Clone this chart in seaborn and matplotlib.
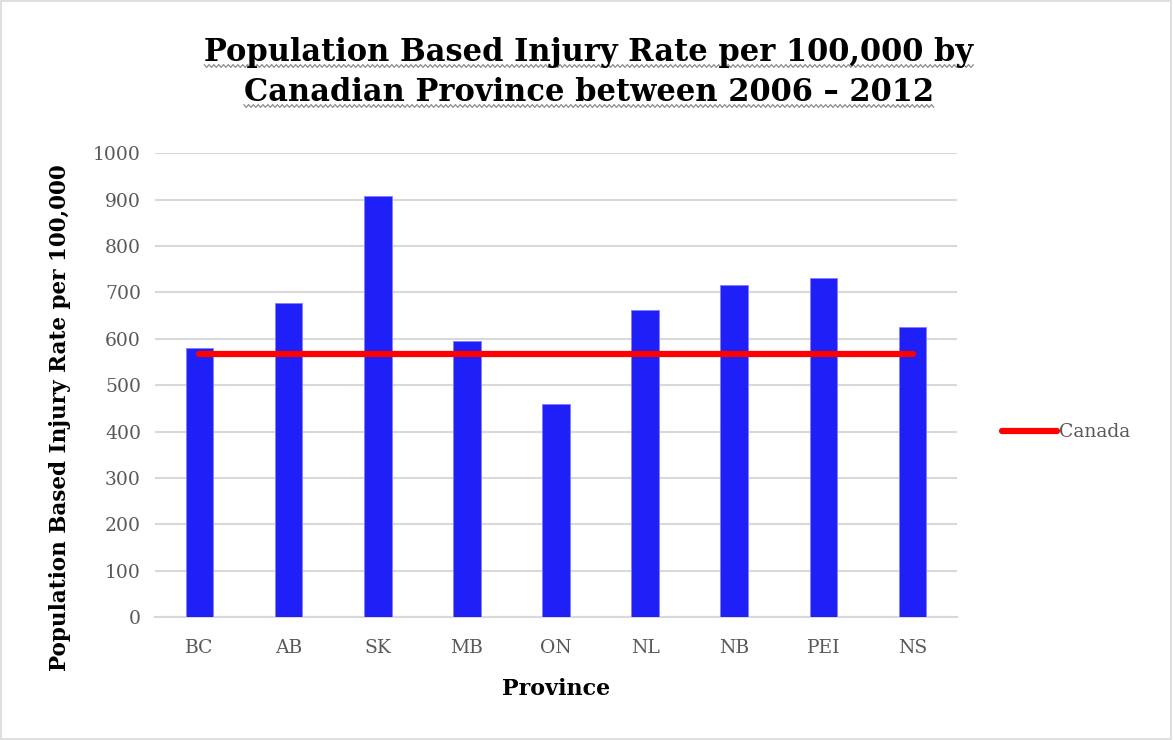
import matplotlib
matplotlib.use("Agg")
import matplotlib.pyplot as plt
import seaborn as sns
import pandas as pd
import numpy as np
from matplotlib.lines import Line2D
from matplotlib.patches import Rectangle

provinces = ["BC", "AB", "SK", "MB", "ON", "NL", "NB", "PEI", "NS"]
injury_rate = [580, 677, 908, 595, 460, 661, 716, 731, 626]
canada_rate = 568
y_ticks = [0, 100, 200, 300, 400, 500, 600, 700, 800, 900, 1000]
title_lines = ["Population Based Injury Rate per 100,000 by",
               "Canadian Province between 2006 \u2013 2012"]

sns.set_theme(style="white")
plt.rcParams["font.family"] = ["DejaVu Serif"]

df = pd.DataFrame({"Province": provinces, "Rate": injury_rate})

W, H = 1173, 740
fig = plt.figure(figsize=(W / 100, H / 100), dpi=100)
ax = fig.add_axes([0.132, 0.166, 0.684, 0.627])

sns.barplot(data=df, x="Province", y="Rate", order=provinces, color="#1F1FF8",
            saturation=1, width=0.31, ax=ax, zorder=3)
for p in ax.patches:
    p.set_edgecolor("#8080ff")
    p.set_linewidth(0.6)

xs = list(range(len(provinces)))
ax.plot([xs[0], xs[-1]], [canada_rate, canada_rate], color="#FF0000", lw=4.5,
        solid_capstyle="round", zorder=4)

ax.set_xlim(-0.5, len(provinces) - 0.5)
ax.set_ylim(0, 1000)
ax.set_yticks(y_ticks)
ax.set_yticklabels([str(v) for v in y_ticks])
ax.yaxis.grid(True, color="#d9d9d9", lw=1.5, zorder=0)
ax.xaxis.grid(False)
for side in ["top", "right", "left"]:
    ax.spines[side].set_visible(False)
ax.spines["bottom"].set_color("#d9d9d9")
ax.spines["bottom"].set_linewidth(1.5)
ax.tick_params(axis="both", length=0, labelsize=13.5, labelcolor="#595959")
ax.tick_params(axis="y", pad=10)
ax.tick_params(axis="x", pad=16)

ax.set_xlabel("Province", fontsize=16, fontweight="bold", color="black")
ax.set_ylabel("Population Based Injury Rate per 100,000", fontsize=15.5,
              fontweight="bold", color="black")
ax.xaxis.set_label_coords(0.5, -0.132)
ax.yaxis.set_label_coords(-0.104, 0.43)

# two-line bold title, each line with a grey wavy underline beneath it
baselines = [61, 101]
title_texts = []
for line, yb in zip(title_lines, baselines):
    t = fig.text(0.502, 1 - yb / H, line, ha="center", va="baseline",
                 fontsize=22, fontweight="bold", color="black")
    title_texts.append(t)

fig.canvas.draw()
renderer = fig.canvas.get_renderer()
for t, yb in zip(title_texts, baselines):
    bb = t.get_window_extent(renderer)
    x0, x1 = bb.x0, bb.x1
    n = int((x1 - x0) / 2.4)
    zx = np.linspace(x0, x1, n + 1)
    y_px = H - (yb + 5)
    zy = y_px + np.where(np.arange(n + 1) % 2 == 0, 1.4, -1.4)
    fig.add_artist(Line2D(zx / W, zy / H, transform=fig.transFigure,
                          color="#8c8c8c", lw=0.9))

handle = Line2D([0], [0], color="#FF0000", lw=4.5, solid_capstyle="round")
fig.legend([handle], ["Canada"], loc="center left", bbox_to_anchor=(0.840, 0.416),
           frameon=False, fontsize=13.5, handlelength=2.9, handletextpad=0.15,
           labelcolor="#595959")

fig.patches.append(Rectangle((0.001, 0.001), 0.997, 0.997, transform=fig.transFigure,
                             fill=False, edgecolor="#d9d9d9", lw=1.2))

fig.savefig("out.png", dpi=100, facecolor="white")
